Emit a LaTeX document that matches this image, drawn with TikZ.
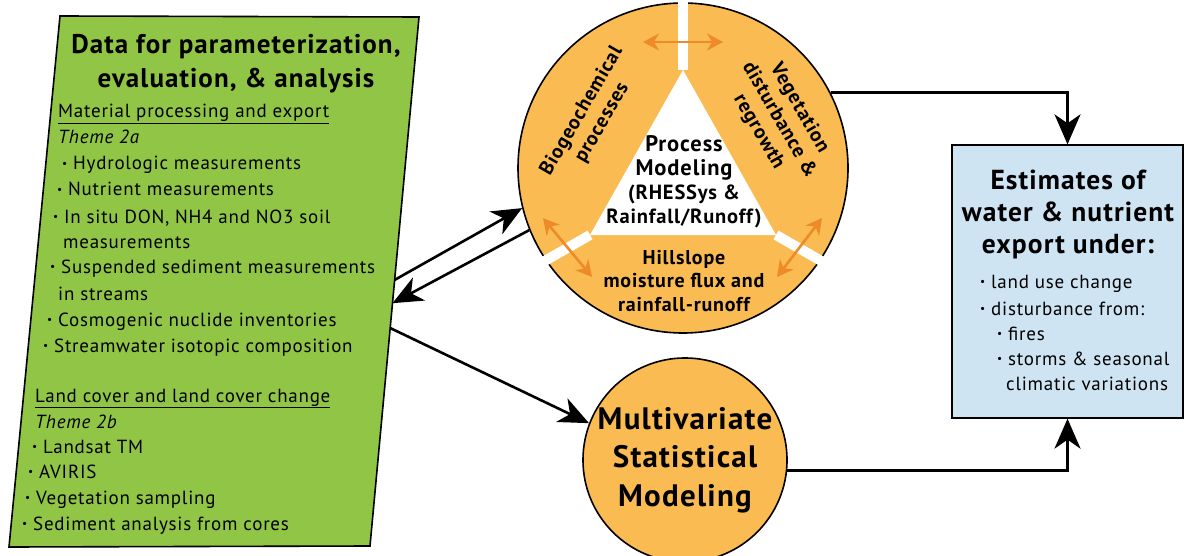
\documentclass[tikz,border=0pt]{standalone}
\usepackage{fontspec}
\setmainfont{PT Sans}[LetterSpace=4]
\usetikzlibrary{calc,arrows.meta}
\tikzset{>=Stealth}

\definecolor{datagreen}{RGB}{145,197,70}
\definecolor{procorange}{RGB}{250,187,82}
\definecolor{linkorange}{RGB}{238,138,40}
\definecolor{estblue}{RGB}{207,228,243}
\newcommand{\bul}{\raisebox{.12em}{\scalebox{.6}{\textbullet}}\ }

\tikzset{
  bigarrow/.style={-{Stealth[length=30pt,width=26pt,inset=9pt]},line width=2.6pt},
  pairlink/.style={{Stealth[length=16pt,width=17pt]}-{Stealth[length=16pt,width=17pt]},line width=2.6pt,linkorange},
  gap/.style={white,line width=10pt},
  item/.style={anchor=base west,inner sep=0pt,font=\fontsize{19}{20}\selectfont},
  estitem/.style={anchor=base west,inner sep=0pt,font=\fontsize{19}{20}\selectfont},
  datatitle/.style={anchor=base,inner sep=0pt,font=\bfseries\fontsize{27}{30}\selectfont},
  sector/.style={align=center,inner sep=0pt,font=\bfseries\fontsize{20}{23.5}\selectfont}
}

\begin{document}
\begin{tikzpicture}[x=1pt,y=-1pt]
\useasboundingbox (0,0) rectangle (1185,556);
\fill[white] (0,0) rectangle (1185,556);

% data box
\coordinate (dtl) at (60,16);
\coordinate (dtr) at (419,17);
\coordinate (dbr) at (370,546);
\coordinate (dbl) at (9,547);
\draw[line width=1.6pt,fill=datagreen] (dtl) -- (dtr) -- (dbr) -- (dbl) -- cycle;
\coordinate (dout1) at ($(dtr)!.497!(dbr)$);
\coordinate (din) at ($(dtr)!.541!(dbr)$);
\coordinate (dout2) at ($(dtr)!.588!(dbr)$);

\node[datatitle] (dtitle1) at (236,54) {Data for parameterization,};
\node[datatitle] (dtitle2) at (236,88) {evaluation, \& analysis};
\node[item] (mat) at (58,118) {\underline{Material processing and export}};
\node[item] (th2a) at (58,144) {\itshape Theme 2a};
\node[item] (hyd) at (62,170) {\bul Hydrologic measurements};
\node[item] (nut) at (57,196) {\bul Nutrient measurements};
\node[item] (insitu) at (53,223) {\bul In situ DON, NH4 and NO3 soil};
\node[item] (insitu2) at (63,248) {measurements};
\node[item] (susp) at (50,273) {\bul Suspended sediment measurements};
\node[item] (susp2) at (58,300) {in streams};
\node[item] (cosmo) at (47,326) {\bul Cosmogenic nuclide inventories};
\node[item] (iso) at (43,352) {\bul Streamwater isotopic composition};
\node[item] (land) at (35,402) {\underline{Land cover and land cover change}};
\node[item] (th2b) at (35,428) {\itshape Theme 2b};
\node[item] (tm) at (32,453) {\bul Landsat TM};
\node[item] (aviris) at (28,478) {\bul AVIRIS};
\node[item] (vegs) at (25,504) {\bul Vegetation sampling};
\node[item] (cores) at (22,530) {\bul Sediment analysis from cores};

% process modeling wheel
\node[circle,draw,line width=1.6pt,fill=procorange,minimum size=330pt,inner sep=0pt] (proc) at (683,168) {};
\fill[white] (683,70) -- (590,235) -- (776,235) -- cycle;
\draw[gap] (683,70) -- (683,-6);
\draw[gap] (590,235) -- (529,270);
\draw[gap] (776,235) -- (837,270);

\node[sector,rotate=60] (bio) at (592,117) {Biogeochemical\\processes};
\node[sector,rotate=-60] (veg) at (779,120) {Vegetation\\disturbance \&\\regrowth};
\node[sector] (hill) at (684,281) {Hillslope\\moisture flux and\\rainfall-runoff};
\node[sector,font=\bfseries\fontsize{22.5}{24}\selectfont] (procname) at (684,182)
  {Process\\Modeling\\\fontsize{20.5}{24}\selectfont(RHESSys \&\\\fontsize{20.5}{24}\selectfont Rainfall/Runoff)};

\draw[pairlink] (643,42) -- (723,42);
\draw[pairlink] (543,218) -- (592,277);
\draw[pairlink] (822,218) -- (777,277);

% statistical modeling
\node[circle,draw,line width=1.6pt,fill=procorange,minimum size=200pt,inner sep=0pt,align=center,
  font=\bfseries\fontsize{31}{38.5}\selectfont] (multi) at (685,460) {Multivariate\\Statistical\\Modeling};

% estimates box
\node[draw,line width=1.3pt,fill=estblue,minimum width=231pt,minimum height=273pt,inner sep=0pt] (est) at (1067.5,281.5) {};
\node[align=center,inner sep=0pt,font=\bfseries\fontsize{27.5}{32}\selectfont] (esttitle) at (1068,214) {Estimates of\\water \& nutrient\\export under:};
\node[estitem] (luc) at (980,288) {\bul land use change};
\node[estitem] (dist) at (980,315) {\bul disturbance from:};
\node[estitem] (fires) at (997,340) {\bul fires};
\node[estitem] (storms) at (997,365) {\bul storms \& seasonal};
\node[estitem] (clim) at (1006,390) {climatic variations};

% connectors
\draw[bigarrow] (dout1) -- (proc.194);
\draw[bigarrow] (proc.202) -- (din);
\draw[bigarrow] (dout2) -- (multi.159);
\draw[bigarrow] (proc.27) -| (est.north);
\draw[bigarrow] (multi.-6) -| (est.south);
\end{tikzpicture}
\end{document}
